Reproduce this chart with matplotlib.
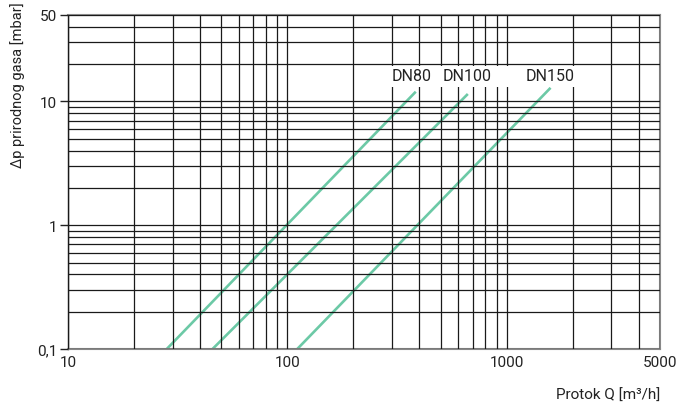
import matplotlib.pyplot as plt
import matplotlib.patches as patches
from matplotlib.ticker import FixedLocator, NullFormatter
import numpy as np

plt.rcParams['font.family'] = ['Roboto', 'DejaVu Sans']

# series: flow endpoints [m3/h] and pressure drop [mbar]
names = ["DN80", "DN100", "DN150"]
q_vals = [[28.2, 385], [45.6, 665], [111, 1585]]
dp_vals = [[0.1, 12.0], [0.1, 11.5], [0.1, 12.9]]

x_major = [10, 100, 1000, 5000]
x_major_labels = ["10", "100", "1000", "5000"]
y_major = [0.1, 1, 10, 50]
y_major_labels = ["0,1", "1", "10", "50"]
x_minor = [20, 30, 40, 50, 60, 70, 80, 90, 200, 300, 400, 500, 600, 700, 800, 900,
           2000, 3000, 4000]
y_minor = [0.2, 0.3, 0.4, 0.5, 0.6, 0.7, 0.8, 0.9, 2, 3, 4, 5, 6, 7, 8, 9, 20, 30, 40]

green = '#6cc9a6'

fig = plt.figure(figsize=(6.8, 4.06), dpi=100)
ax = fig.add_axes([68/680, 1 - 350/406, (660-68)/680, (350-16)/406])

for q, dp in zip(q_vals, dp_vals):
    ax.plot(q, dp, color=green, lw=1.9, zorder=2, solid_capstyle='butt')

ax.set_xscale('log')
ax.set_yscale('log')
ax.set_xlim(10, 5000)
ax.set_ylim(0.1, 50)

ax.xaxis.set_major_locator(FixedLocator(x_major))
ax.xaxis.set_minor_locator(FixedLocator(x_minor))
ax.yaxis.set_major_locator(FixedLocator(y_major))
ax.yaxis.set_minor_locator(FixedLocator(y_minor))
ax.set_xticklabels(x_major_labels)
ax.set_yticklabels(y_major_labels)
ax.xaxis.set_minor_formatter(NullFormatter())
ax.yaxis.set_minor_formatter(NullFormatter())

ax.set_axisbelow(False)
ax.grid(which='both', color='#1a1a1a', lw=0.9)

ax.tick_params(axis='x', which='both', length=0, pad=4, labelsize=11, colors='#222')
ax.tick_params(axis='y', which='major', length=6, width=1, pad=2, labelsize=11, colors='#222')
ax.tick_params(axis='y', which='minor', length=0)

for s in ['top', 'right', 'bottom']:
    ax.spines[s].set_color('#888888')
    ax.spines[s].set_linewidth(1.5)
ax.spines['left'].set_color('#111111')
ax.spines['left'].set_linewidth(1.0)

# white strip behind the series names
ax.add_patch(patches.Rectangle((285, 13.1), 2125 - 285, 19.4 - 13.1,
                               facecolor='white', edgecolor='none', zorder=3))
label_x = [370, 658, 1585]
for name, lx in zip(names, label_x):
    ax.text(lx, 16.1, name, ha='center', va='center', fontsize=11.5,
            color='#222', zorder=4)

fig.text(18/680, 1 - 85/406, "Δp prirodnog gasa [mbar]", rotation=90,
         ha='center', va='center', fontsize=10.5, color='#222')
fig.text(660/680, 1 - 396/406, "Protok Q [m³/h]", ha='right', va='center',
         fontsize=11, color='#222')

fig.savefig('out.png', dpi=100)
